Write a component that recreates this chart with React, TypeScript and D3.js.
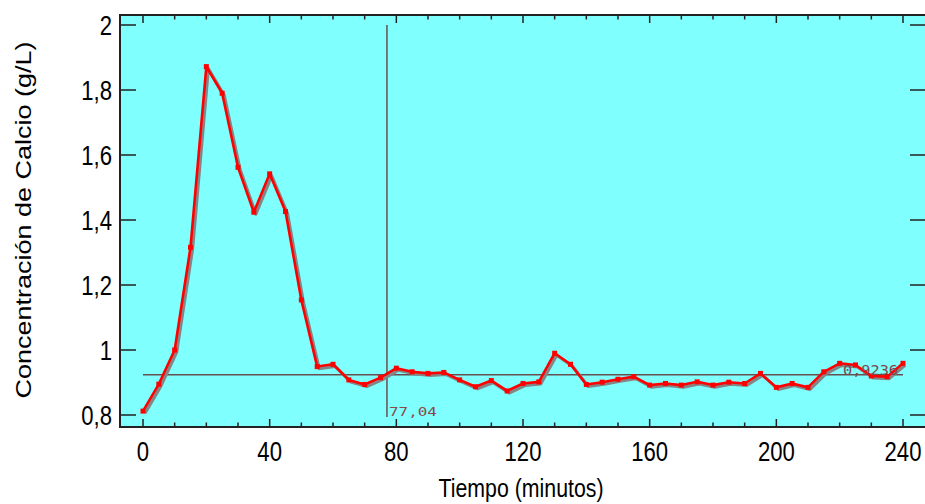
import * as d3 from "d3";

// tiempo (min) y concentración (g/L), una lectura cada 5 minutos
const tiempos = [
  0, 5, 10, 15, 20, 25, 30, 35, 40, 45, 50, 55, 60, 65, 70, 75, 80, 85, 90, 95,
  100, 105, 110, 115, 120, 125, 130, 135, 140, 145, 150, 155, 160, 165, 170, 175,
  180, 185, 190, 195, 200, 205, 210, 215, 220, 225, 230, 235, 240,
];
const calcio = [
  0.812, 0.895, 1.0, 1.316, 1.872, 1.79, 1.562, 1.424, 1.542, 1.426, 1.154, 0.949,
  0.956, 0.908, 0.894, 0.915, 0.944, 0.933, 0.928, 0.931, 0.908, 0.887, 0.906, 0.874,
  0.897, 0.902, 0.99, 0.956, 0.894, 0.901, 0.91, 0.918, 0.892, 0.897, 0.892, 0.902,
  0.892, 0.901, 0.897, 0.928, 0.885, 0.897, 0.885, 0.933, 0.959, 0.954, 0.92, 0.918,
  0.959,
];

const xTicks = [0, 40, 80, 120, 160, 200, 240];
const xMinorTicks = d3.range(0, 241, 10);
const yTicks = [0.8, 1, 1.2, 1.4, 1.6, 1.8, 2];
const yTickLabels = ["0,8", "1", "1,2", "1,4", "1,6", "1,8", "2"];

// cursor
const cursorX = 77.04;
const cursorY = 0.9236;

const W = 925;
const H = 504;
const frame = { left: 120, top: 15, right: 926, bottom: 427 };
const FONT = "'Liberation Sans', Arial, sans-serif";
const SX = 0.82; // texto comprimido en horizontal

export default function App() {
  const x = d3.scaleLinear().domain([0, 240]).range([143, 903]);
  const y = d3.scaleLinear().domain([0.8, 2]).range([415, 25]);

  const pts = tiempos.map((t, i) => [x(t), y(calcio[i])] as [number, number]);
  const line = d3.line();
  const path = line(pts) || "";

  return (
    <svg
      width={W}
      height={H}
      style={{ position: "absolute", left: 0, top: 0, background: "#fff" }}
    >
      <rect
        x={frame.left}
        y={frame.top}
        width={frame.right - frame.left}
        height={frame.bottom - frame.top}
        fill="#80ffff"
      />

      {/* ticks */}
      {yTicks.map((v) => (
        <g key={"y" + v}>
          <line x1={frame.left} x2={frame.left + 16} y1={y(v)} y2={y(v)} stroke="#222" strokeWidth={1.5} />
          <line x1={frame.right - 16} x2={frame.right} y1={y(v)} y2={y(v)} stroke="#222" strokeWidth={1.5} />
        </g>
      ))}
      {xMinorTicks.map((t) => {
        const len = t % 40 === 0 ? 8 : 4.5;
        return (
          <g key={"x" + t}>
            <line x1={x(t)} x2={x(t)} y1={frame.bottom} y2={frame.bottom - len} stroke="#222" strokeWidth={1.5} />
            <line x1={x(t)} x2={x(t)} y1={frame.top} y2={frame.top + len} stroke="#222" strokeWidth={1.5} />
          </g>
        );
      })}

      {/* cursor */}
      <line x1={x(cursorX)} x2={x(cursorX)} y1={y(2)} y2={y(0.8) + 2} stroke="#664f4f" strokeWidth={1.5} />
      <line x1={x(0)} x2={x(240)} y1={y(cursorY)} y2={y(cursorY)} stroke="#664f4f" strokeWidth={1.5} />

      {/* serie con sombra */}
      <path d={path} transform="translate(2,2)" fill="none" stroke="#858585" strokeWidth={3.2} strokeLinejoin="round" />
      <path d={path} fill="none" stroke="#ff0000" strokeWidth={2.6} strokeLinejoin="round" />
      {pts.map(([px, py], i) => (
        <rect key={i} x={px - 2.5} y={py - 2.5} width={5} height={5} fill="#ff0000" />
      ))}

      <text
        x={x(cursorX) + 2}
        y={416}
        fontFamily="'DejaVu Sans Mono', monospace"
        fontSize={13}
        fill="#8a4a4a"
        textLength={48}
        lengthAdjust="spacingAndGlyphs"
      >
        77,04
      </text>
      <text
        x={843}
        y={375}
        fontFamily="'DejaVu Sans Mono', monospace"
        fontSize={14}
        fill="#7a4a4a"
        textLength={55}
        lengthAdjust="spacingAndGlyphs"
      >
        0,9236
      </text>

      {/* marco */}
      <rect
        x={frame.left}
        y={frame.top}
        width={frame.right - frame.left}
        height={frame.bottom - frame.top}
        fill="none"
        stroke="#222"
        strokeWidth={2}
      />

      {/* etiquetas */}
      {yTicks.map((v, i) => (
        <text
          key={"yl" + v}
          transform={`translate(112,${y(v) + 9.5}) scale(${SX},1)`}
          textAnchor="end"
          fontFamily={FONT}
          fontSize={27}
          fill="#000"
        >
          {yTickLabels[i]}
        </text>
      ))}
      {xTicks.map((t) => (
        <text
          key={"xl" + t}
          transform={`translate(${x(t)},461) scale(${SX},1)`}
          textAnchor="middle"
          fontFamily={FONT}
          fontSize={27}
          fill="#000"
        >
          {t}
        </text>
      ))}
      <text
        transform={`translate(521,497) scale(${SX},1)`}
        textAnchor="middle"
        fontFamily={FONT}
        fontSize={26}
        fill="#000"
      >
        Tiempo (minutos)
      </text>
      <text
        transform={`translate(31,220) rotate(-90) scale(1,${SX})`}
        textAnchor="middle"
        fontFamily={FONT}
        fontSize={27}
        fill="#000"
      >
        Concentración de Calcio (g/L)
      </text>
    </svg>
  );
}
